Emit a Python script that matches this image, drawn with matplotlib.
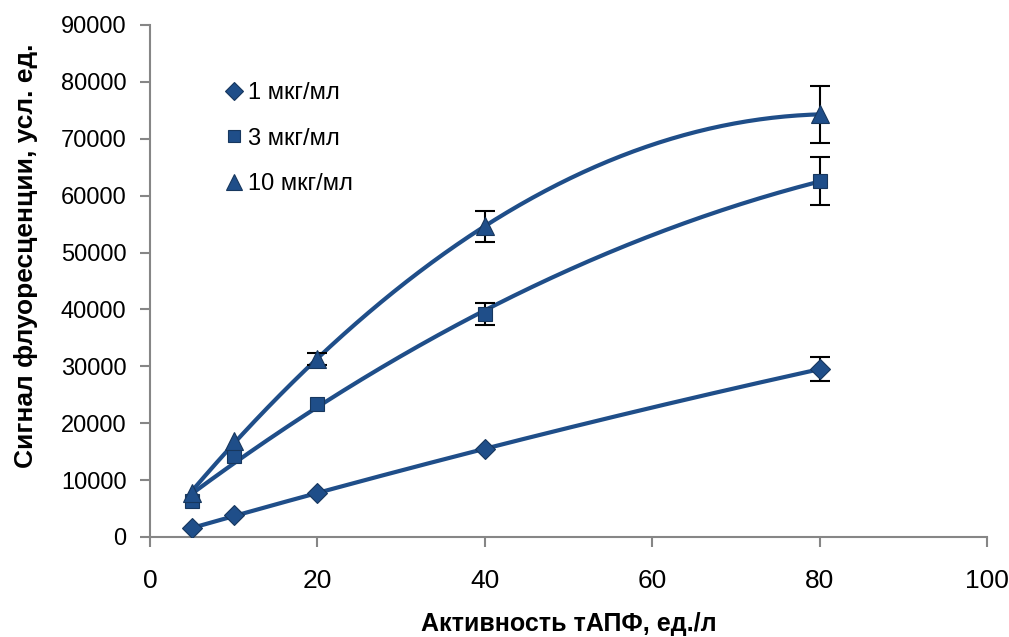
import numpy as np
import matplotlib.pyplot as plt

plt.rcParams['font.family'] = ['Liberation Sans', 'DejaVu Sans']

# activity values (ед./л)
activity = [5, 10, 20, 40, 80]

# signal for each concentration (error bars hidden by markers are 0)
sig_1 = [1500, 3800, 7700, 15500, 29500]
err_1 = [0, 0, 0, 0, 2100]
sig_3 = [6300, 14300, 23300, 39200, 62600]
err_3 = [0, 0, 0, 2000, 4200]
sig_10 = [7800, 16800, 31300, 54600, 74300]
err_10 = [0, 0, 1000, 2700, 5000]

labels = ['1 мкг/мл', '3 мкг/мл', '10 мкг/мл']
markers = ['D', 's', '^']
msizes = [10, 10, 13]

col = '#1F4E89'
grey = '#868686'

fig = plt.figure(figsize=(10.09, 6.37), dpi=100)
ax = fig.add_axes([0.1487, 0.157, 0.8295, 0.8038])

x = np.array(activity)
xs = np.linspace(x.min(), x.max(), 200)
for s, e, lab, m, ms in zip([sig_1, sig_3, sig_10], [err_1, err_3, err_10],
                            labels, markers, msizes):
    s = np.array(s)
    e = np.array(e)
    # polynomial trend line (order 2), as in the original
    coef = np.polyfit(x, s, 2)
    ax.plot(xs, np.polyval(coef, xs), color=col, lw=3, zorder=2)
    # only the error bars that stick out of the markers
    vis = e > 0
    ax.errorbar(x[vis], s[vis], yerr=e[vis], fmt='none', ecolor='black',
                elinewidth=1.5, capsize=7, capthick=1.5, zorder=3)
    ax.plot(x, s, linestyle='none', marker=m, markersize=ms,
            color=col, markeredgecolor='#17375E', markeredgewidth=0.8,
            label=lab, zorder=4)

ax.set_xlim(0, 100)
ax.set_ylim(0, 90000)
ax.set_xticks(np.arange(0, 101, 20))
ax.set_yticks(np.arange(0, 90001, 10000))
ax.tick_params(axis='both', color=grey, length=7, width=1.5, direction='out')
ax.tick_params(axis='x', labelsize=19, pad=16)
ax.tick_params(axis='y', labelsize=17, pad=10)

for sp in ['top', 'right']:
    ax.spines[sp].set_visible(False)
for sp in ['left', 'bottom']:
    ax.spines[sp].set_color(grey)
    ax.spines[sp].set_linewidth(1.5)

ax.set_xlabel('Активность тАПФ, ед./л', fontsize=18, fontweight='bold')
ax.set_ylabel('Сигнал флуоресценции, усл. ед.', fontsize=19,
              fontweight='bold')
ax.xaxis.set_label_coords(0.5, -0.146)
ax.yaxis.set_label_coords(-0.134, 0.549)

ax.legend(loc='upper left', bbox_to_anchor=(0.066, 0.93), frameon=False,
          fontsize=17, handlelength=0.6, handletextpad=0.3, labelspacing=1.0,
          markerscale=0.9)

fig.savefig('out.png', dpi=100)
